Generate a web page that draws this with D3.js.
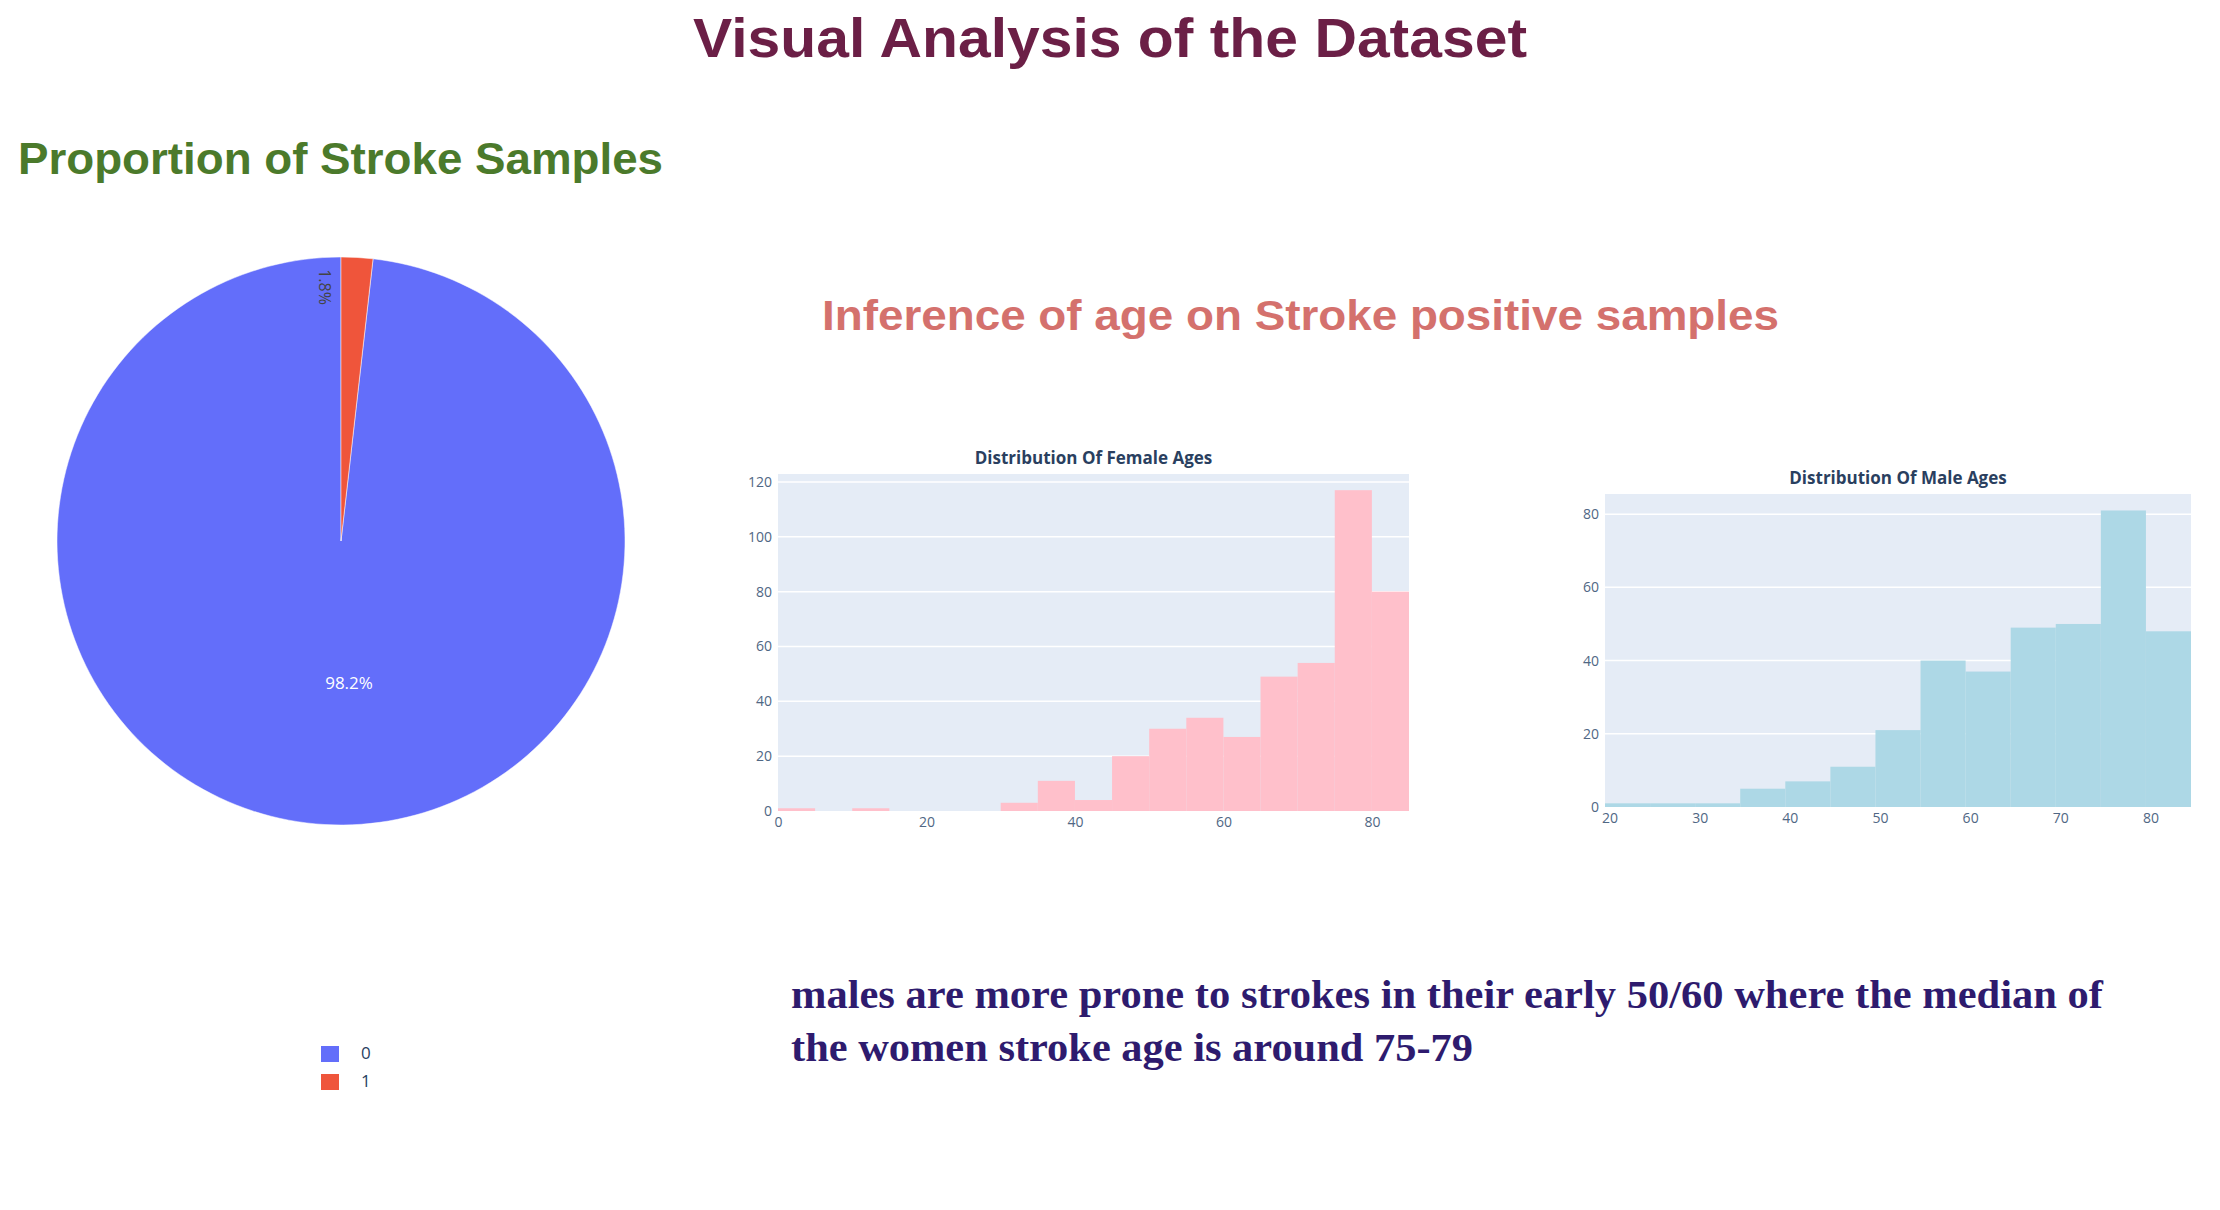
<!DOCTYPE html>
<html>
<head>
<meta charset="utf-8">
<script src="https://cdn.jsdelivr.net/npm/d3@7"></script>
<style>
  body { margin: 0; background: #fff; }
  .tick text { font-family: "Open Sans", sans-serif; fill: #506784; }
</style>
</head>
<body>
<div id="chart"></div>
<script>
// pie data
const strokeLabels = ["0", "1"];
const strokeShares = [98.2, 1.8];
const pieColors = ["#636efa", "#ef553b"];

// female histogram (bin width 5)
const femaleBinStarts = [0, 5, 10, 15, 20, 25, 30, 35, 40, 45, 50, 55, 60, 65, 70, 75, 80];
const femaleCounts = [1, 0, 1, 0, 0, 0, 3, 11, 4, 20, 30, 34, 27, 49, 54, 117, 80];
const femaleTicks = [0, 20, 40, 60, 80];
const femaleYTicks = [0, 20, 40, 60, 80, 100, 120];

// male histogram (bin width 5)
const maleBinStarts = [19.5, 24.5, 29.5, 34.5, 39.5, 44.5, 49.5, 54.5, 59.5, 64.5, 69.5, 74.5, 79.5];
const maleCounts = [1, 1, 1, 5, 7, 11, 21, 40, 37, 49, 50, 81, 48];
const maleTicks = [20, 30, 40, 50, 60, 70, 80];
const maleYTicks = [0, 20, 40, 60, 80];

const W = 2220, H = 1210;
const svg = d3.select("#chart").append("svg")
    .attr("width", W).attr("height", H);

const sans = "'Liberation Sans', Arial, sans-serif";

// headings
svg.append("text").attr("x", 1110).attr("y", 57)
    .attr("text-anchor", "middle")
    .attr("textLength", 834).attr("lengthAdjust", "spacingAndGlyphs")
    .style("font-family", sans).style("font-weight", "bold").style("font-size", "56px")
    .style("fill", "#6b1f46")
    .text("Visual Analysis of the Dataset");

svg.append("text").attr("x", 18).attr("y", 174)
    .attr("textLength", 645).attr("lengthAdjust", "spacingAndGlyphs")
    .style("font-family", sans).style("font-weight", "bold").style("font-size", "44px")
    .style("fill", "#4b7a2b")
    .text("Proportion of Stroke Samples");

svg.append("text").attr("x", 822).attr("y", 330)
    .attr("textLength", 957).attr("lengthAdjust", "spacingAndGlyphs")
    .style("font-family", sans).style("font-weight", "bold").style("font-size", "43px")
    .style("fill", "#d4716d")
    .text("Inference of age on Stroke positive samples");

// pie
function createPie() {
    const cx = 341, cy = 541, r = 284;
    const g = svg.append("g").attr("transform", `translate(${cx},${cy})`);
    const pie = d3.pie().sort(null).value(d => d);
    const arc = d3.arc().innerRadius(0).outerRadius(r);
    // plotly draws clockwise from top; the small slice sits just left of 12 o'clock
    const arcs = pie.startAngle(2 * Math.PI * strokeShares[1] / 100 - 2 * Math.PI + 0)
        .endAngle(2 * Math.PI * strokeShares[1] / 100)(strokeShares);
    g.selectAll("path").data(arcs).enter().append("path")
        .attr("d", arc)
        .attr("fill", (d, i) => pieColors[i])
        .attr("stroke", "#fff").attr("stroke-width", 0.5);

    g.append("text").attr("x", 8).attr("y", 148)
        .attr("text-anchor", "middle")
        .style("font-family", "'Open Sans', sans-serif").style("font-size", "17px")
        .style("fill", "#fff").text(strokeShares[0] + "%");

    g.append("text")
        .attr("transform", "translate(-16,-254) rotate(90)")
        .attr("text-anchor", "middle").attr("dy", "0.35em")
        .style("font-family", "'Open Sans', sans-serif").style("font-size", "16px")
        .style("fill", "#444").text(strokeShares[1] + "%");

    const legend = svg.selectAll(".legend").data(strokeLabels).enter().append("g")
        .attr("class", "legend")
        .attr("transform", (d, i) => `translate(321,${1046 + i * 28})`);
    legend.append("rect").attr("width", 18).attr("height", 16)
        .attr("fill", (d, i) => pieColors[i]);
    legend.append("text").attr("x", 40).attr("y", 13)
        .style("font-family", "'Open Sans', sans-serif").style("font-size", "17px")
        .style("fill", "#2a3f5f").text(d => d);
}
createPie();

function createHist(box, title, starts, counts, xDomain, xTicks, yMax, yTicks, color) {
    const x = d3.scaleLinear().domain(xDomain).range([box.x0, box.x1]);
    const y = d3.scaleLinear().domain([0, yMax]).range([box.y1, box.y0]);
    const g = svg.append("g");
    g.append("rect").attr("x", box.x0).attr("y", box.y0)
        .attr("width", box.x1 - box.x0).attr("height", box.y1 - box.y0)
        .attr("fill", "#e5ecf6");
    g.selectAll(".grid").data(yTicks.filter(t => t > 0)).enter().append("line")
        .attr("x1", box.x0).attr("x2", box.x1)
        .attr("y1", d => y(d)).attr("y2", d => y(d))
        .attr("stroke", "#fff").attr("stroke-width", 1.5);
    g.selectAll(".bar").data(counts).enter().append("rect")
        .attr("x", (d, i) => x(starts[i]))
        .attr("width", (d, i) => x(starts[i] + 5) - x(starts[i]))
        .attr("y", d => y(d))
        .attr("height", d => box.y1 - y(d))
        .attr("fill", color);

    const xa = g.append("g").attr("transform", `translate(0,${box.y1})`)
        .call(d3.axisBottom(x).tickValues(xTicks).tickSize(0).tickPadding(6));
    const ya = g.append("g").attr("transform", `translate(${box.x0},0)`)
        .call(d3.axisLeft(y).tickValues(yTicks).tickSize(0).tickPadding(6));
    [xa, ya].forEach(a => {
        a.select(".domain").remove();
        a.selectAll("text").style("font-size", "14px");
    });

    g.append("text").attr("x", (box.x0 + box.x1) / 2).attr("y", box.y0 - 10)
        .attr("text-anchor", "middle")
        .style("font-family", "'Open Sans', sans-serif").style("font-weight", "bold")
        .style("font-size", "17px").style("fill", "#2a3f5f")
        .text(title);
}

createHist({ x0: 778, x1: 1409, y0: 474, y1: 811 }, "Distribution Of Female Ages",
    femaleBinStarts, femaleCounts, [0, 85], femaleTicks, 122.9, femaleYTicks, "#ffc0cb");
createHist({ x0: 1605, x1: 2191, y0: 494, y1: 807 }, "Distribution Of Male Ages",
    maleBinStarts, maleCounts, [19.5, 84.5], maleTicks, 85.5, maleYTicks, "#add8e6");

// note
const serif = "'Liberation Serif', 'Times New Roman', serif";
svg.append("text").attr("x", 791).attr("y", 1008)
    .attr("textLength", 1312).attr("lengthAdjust", "spacingAndGlyphs")
    .style("font-family", serif).style("font-weight", "bold").style("font-size", "40px")
    .style("fill", "#2e1b6e")
    .text("males are more prone to strokes in their early 50/60 where the median of");
svg.append("text").attr("x", 791).attr("y", 1061)
    .attr("textLength", 682).attr("lengthAdjust", "spacingAndGlyphs")
    .style("font-family", serif).style("font-weight", "bold").style("font-size", "40px")
    .style("fill", "#2e1b6e")
    .text("the women stroke age is around 75-79");
</script>
</body>
</html>
